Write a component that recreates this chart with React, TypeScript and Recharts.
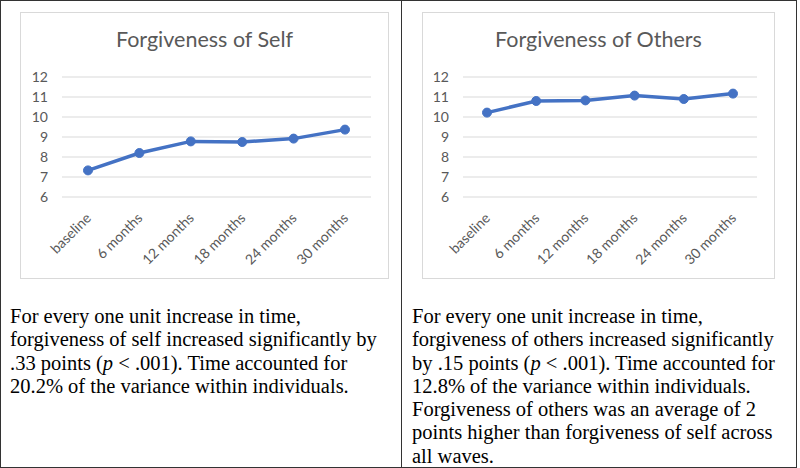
import { LineChart, Line, XAxis, YAxis, CartesianGrid } from 'recharts';

const timepoints = ['baseline', '6 months', '12 months', '18 months', '24 months', '30 months'];
const selfScores = [7.33, 8.2, 8.78, 8.75, 8.92, 9.37];
const othersScores = [10.22, 10.8, 10.83, 11.07, 10.9, 11.17];
const yTicks = [6, 7, 8, 9, 10, 11, 12];

const selfNote = [
  'For every one unit increase in time,',
  'forgiveness of self increased significantly by',
  '.33 points (|p| < .001). Time accounted for',
  '20.2% of the variance within individuals.',
];
const othersNote = [
  'For every one unit increase in time,',
  'forgiveness of others increased significantly',
  'by .15 points (|p| < .001). Time accounted for',
  '12.8% of the variance within individuals.',
  'Forgiveness of others was an average of 2',
  'points higher than forgiveness of self across',
  'all waves.',
];

const gray = '#595959';
const blue = '#4472c4';

const AngledTick = (props: any) => {
  const { x, y, payload } = props;
  return (
    <g transform={`translate(${x + 4},${y + 14})`}>
      <text transform="rotate(-45)" textAnchor="end" fill={gray} fontSize={14} fontFamily="Lato">
        {payload.value}
      </text>
    </g>
  );
};

type PanelProps = {
  title: string;
  values: number[];
  left: number;
  width: number;
  yWidth: number;
  pad: number;
};

const ChartPanel = ({ title, values, left, width, yWidth, pad }: PanelProps) => {
  const data = timepoints.map((t, i) => ({ time: t, score: values[i] }));
  return (
    <div
      style={{
        position: 'absolute', left, top: 11, width, height: 265,
        border: '1px solid #d9d9d9', background: '#fff',
      }}
    >
      <div
        style={{
          position: 'absolute', left: 0, top: 13, width: '100%', textAlign: 'center',
          fontFamily: 'Lato', fontSize: 21.5, lineHeight: '26px', color: gray,
        }}
      >
        {title}
      </div>
      <LineChart width={width} height={265} data={data} margin={{ top: 64, right: 17, bottom: 0, left: 0 }}>
        <CartesianGrid vertical={false} stroke="#d9d9d9" />
        <XAxis
          dataKey="time"
          axisLine={false}
          tickLine={false}
          interval={0}
          height={81}
          padding={{ left: pad, right: pad }}
          tick={<AngledTick />}
        />
        <YAxis
          domain={[6, 12]}
          ticks={yTicks}
          interval={0}
          width={yWidth}
          axisLine={false}
          tickLine={false}
          tickMargin={8}
          tick={{ fill: gray, fontSize: 14, fontFamily: 'Lato' }}
        />
        <Line
          type="linear"
          dataKey="score"
          stroke={blue}
          strokeWidth={3.5}
          dot={{ r: 4.5, fill: blue, stroke: blue, strokeWidth: 1 }}
          isAnimationActive={false}
        />
      </LineChart>
    </div>
  );
};

const NoteLine = ({ text }: { text: string }) => {
  const parts = text.split('|');
  return (
    <div style={{ whiteSpace: 'nowrap' }}>
      {parts.map((p, i) => (i % 2 === 1 ? <i key={i}>{p}</i> : <span key={i}>{p}</span>))}
    </div>
  );
};

const Note = ({ lines, left }: { lines: string[]; left: number }) => (
  <div
    style={{
      position: 'absolute', left, top: 304,
      fontFamily: '"Liberation Serif", serif', fontSize: 20.5, lineHeight: '23.3px', color: '#000',
    }}
  >
    {lines.map((l, i) => <NoteLine key={i} text={l} />)}
  </div>
);

const App = () => {
  return (
    <div
      style={{
        position: 'absolute', left: 0, top: 0, width: 795, height: 466,
        border: '1px solid #333', background: '#fff',
      }}
    >
      <div style={{ position: 'absolute', left: 400, top: 0, width: 1, height: 466, background: '#333' }} />
      <ChartPanel title="Forgiveness of Self" values={selfScores} left={19} width={367} yWidth={41} pad={26} />
      <ChartPanel title="Forgiveness of Others" values={othersScores} left={421} width={351} yWidth={40} pad={24} />
      <Note lines={selfNote} left={9} />
      <Note lines={othersNote} left={411} />
    </div>
  );
};

export default App;
